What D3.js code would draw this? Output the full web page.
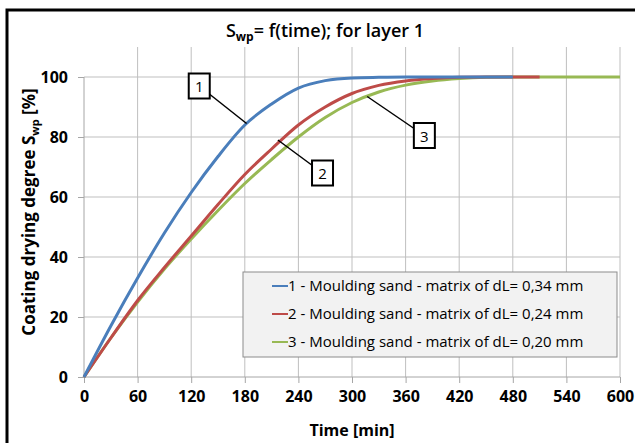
<!DOCTYPE html>
<html>
<head>
<meta charset="utf-8">
<script src="https://cdn.jsdelivr.net/npm/d3@7"></script>
<style>
  body { margin: 0; background: #fff; }
  text { font-family: 'Open Sans', sans-serif; }
  .axis text { font-size: 16px; font-weight: bold; fill: #000; }
  .axis path, .axis line { stroke: #a6a6a6; }
</style>
</head>
<body>
<div id="chart"></div>
<script>
// time [min]
var times = [0, 30, 60, 90, 120, 150, 180, 210, 240, 270, 300, 330, 360, 390, 420, 450, 480, 510, 540, 570, 600];
var layer1 = [0, 17, 33, 48, 61.5, 73.5, 84, 91, 96.3, 98.8, 99.7, 99.9, 100, 100, 100, 100, 100];
var layer2 = [0, 13, 25.5, 36.5, 47, 57.5, 67.5, 76, 84, 90, 94.5, 97.2, 98.7, 99.5, 99.9, 100, 100, 100];
var layer3 = [0, 13, 25, 36, 46, 55.5, 64.5, 72.5, 80, 86.5, 91.5, 95, 97.3, 98.7, 99.5, 99.9, 100, 100, 100, 100, 100];
var seriesNames = ['1 - Moulding sand - matrix of dL= 0,34 mm',
                   '2 - Moulding sand - matrix of dL= 0,24 mm',
                   '3 - Moulding sand - matrix of dL= 0,20 mm'];
var seriesColors = ['#4a7ebb', '#be4b48', '#98b954'];
var xTicks = [0, 60, 120, 180, 240, 300, 360, 420, 480, 540, 600];
var yTicks = [0, 20, 40, 60, 80, 100];
// callouts: label, anchor time, anchor value, box time, box value
var callouts = [
  { label: '1', t: 182, v: 84.5, bt: 129, bv: 97 },
  { label: '2', t: 217, v: 79, bt: 267, bv: 68 },
  { label: '3', t: 317, v: 93.5, bt: 381, bv: 80.5 }
];

var W = 635, H = 443;
var margin = { top: 47, left: 84, bottom: 66, right: 15 },
  width = W - margin.left - margin.right,
  height = H - margin.top - margin.bottom;

var root = d3.select('#chart').append('svg')
  .attr('width', W)
  .attr('height', H);

// chart frame
root.append('rect')
  .attr('x', 7).attr('y', 10)
  .attr('width', 700).attr('height', 500)
  .attr('fill', '#fff')
  .attr('stroke', '#000')
  .attr('stroke-width', 3);

var svg = root.append('g')
  .attr('transform', 'translate(' + margin.left + ',' + margin.top + ')');

var x = d3.scaleLinear().domain([0, 600]).range([0, width]);
var y = d3.scaleLinear().domain([0, 110]).range([height, 0]);

// grid
svg.append('g')
  .selectAll('line.hg')
  .data(yTicks.slice(1))
  .enter().append('line')
  .attr('x1', 0).attr('x2', width)
  .attr('y1', d => y(d)).attr('y2', d => y(d))
  .attr('stroke', '#bfbfbf');

svg.append('g')
  .selectAll('line.vg')
  .data(xTicks.slice(1))
  .enter().append('line')
  .attr('x1', d => x(d)).attr('x2', d => x(d))
  .attr('y1', 0).attr('y2', height)
  .attr('stroke', '#bfbfbf');

var xAxis = d3.axisBottom(x).tickValues(xTicks).tickSize(6).tickPadding(8).tickFormat(d3.format('d'));
var yAxis = d3.axisLeft(y).tickValues(yTicks).tickSize(6).tickPadding(10).tickFormat(d3.format('d'));

svg.append('g')
  .attr('class', 'axis')
  .attr('transform', 'translate(0,' + height + ')')
  .call(xAxis)
  .call(g => g.select('.domain').attr('d', 'M0,0H' + width));

svg.append('g')
  .attr('class', 'axis')
  .call(yAxis)
  .call(g => g.select('.domain').attr('d', 'M0,' + height + 'V' + y(100)));

// curves
var line = d3.line()
  .x(d => x(d[0]))
  .y(d => y(d[1]))
  .curve(d3.curveMonotoneX);

var allSeries = [layer1, layer2, layer3];
svg.selectAll('.curve')
  .data(allSeries.map(s => s.map((v, i) => [times[i], v])).reverse())
  .enter().append('path')
  .attr('class', 'curve')
  .attr('d', line)
  .attr('fill', 'none')
  .attr('stroke', (d, i) => seriesColors[2 - i])
  .attr('stroke-width', 3);

// callouts
var co = svg.selectAll('.callout')
  .data(callouts)
  .enter().append('g')
  .attr('class', 'callout');

co.append('line')
  .attr('x1', d => x(d.t)).attr('y1', d => y(d.v))
  .attr('x2', d => x(d.bt)).attr('y2', d => y(d.bv))
  .attr('stroke', '#000')
  .attr('stroke-width', 1.5);

co.append('rect')
  .attr('x', d => x(d.bt) - 10.5).attr('y', d => y(d.bv) - 12.5)
  .attr('width', 21).attr('height', 25)
  .attr('fill', '#fff')
  .attr('stroke', '#000')
  .attr('stroke-width', 2);

co.append('text')
  .attr('x', d => x(d.bt)).attr('y', d => y(d.bv) + 6)
  .attr('text-anchor', 'middle')
  .style('font-size', '15px')
  .text(d => d.label);

// legend
var legend = svg.append('g')
  .attr('transform', 'translate(' + (243 - margin.left) + ',' + (272 - margin.top) + ')');

legend.append('rect')
  .attr('width', 374).attr('height', 85)
  .attr('fill', '#f2f2f2')
  .attr('stroke', '#8c8c8c')
  .attr('stroke-width', 1);

var li = legend.selectAll('.li')
  .data(seriesNames)
  .enter().append('g')
  .attr('transform', (d, i) => 'translate(0,' + (14 + i * 28) + ')');

li.append('line')
  .attr('x1', 29).attr('x2', 45)
  .attr('stroke', (d, i) => seriesColors[i])
  .attr('stroke-width', 2);

li.append('text')
  .attr('x', 45).attr('y', 5)
  .style('font-size', '15px')
  .text(d => d);

// titles
var title = root.append('text')
  .attr('x', 325).attr('y', 37)
  .attr('text-anchor', 'middle')
  .style('font-size', '18px')
  .style('font-weight', '600');
title.append('tspan').text('S');
title.append('tspan').attr('dy', 4).style('font-size', '12px').style('font-weight', 'bold').text('wp');
title.append('tspan').attr('dy', -4).text('= f(time); for layer 1');

root.append('text')
  .attr('x', margin.left + width / 2).attr('y', 436)
  .attr('text-anchor', 'middle')
  .style('font-size', '16px')
  .style('font-weight', 'bold')
  .text('Time [min]');

var yl = root.append('text')
  .attr('transform', 'translate(35,' + (margin.top + y(55)) + ') rotate(-90)')
  .attr('text-anchor', 'middle')
  .style('font-size', '17px')
  .style('font-weight', 'bold');
yl.append('tspan').text('Coating drying degree S');
yl.append('tspan').attr('dy', 4).style('font-size', '11px').text('wp');
yl.append('tspan').attr('dy', -4).text(' [%]');
</script>
</body>
</html>
